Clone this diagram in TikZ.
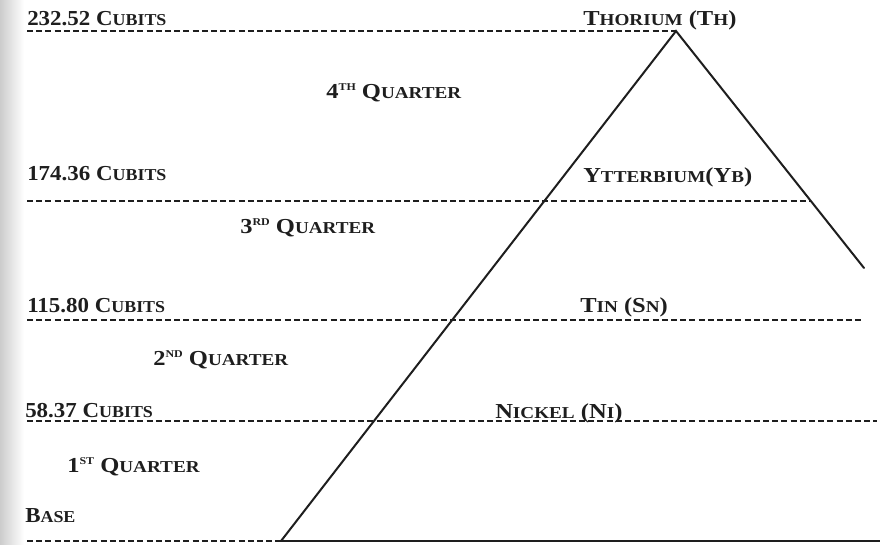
\documentclass[tikz,border=0pt]{standalone}
\usepackage{fontspec}
\setmainfont[FakeStretch=1.15]{Liberation Serif}
\definecolor{ink}{HTML}{1E1E1E}
\newcommand{\Sc}[2]{#1{\fontsize{12.5}{12.5}\selectfont #2}}
\newcommand{\Sup}[1]{\raisebox{5.4pt}{\fontsize{7.8}{7.8}\selectfont #1}}
\newcommand{\Narrow}[1]{\scalebox{0.935}[1]{#1}}
\begin{document}
\begin{tikzpicture}[x=0.75pt,y=-0.75pt,
  lbl/.style={anchor=base west,inner sep=0pt,text=ink,font=\fontsize{16}{16}\selectfont\bfseries},
  lev/.style={draw=ink,line width=1.1pt,dash pattern=on 4.5pt off 2.4pt},
  side/.style={draw=ink,line width=1.5pt,line cap=round,line join=miter},
  baseline solid/.style={draw=ink,line width=1.1pt}]
\useasboundingbox (0,0) rectangle (880,544);
\shade[left color=black!20,right color=white] (0,0) rectangle (24,544);

% coordinates
\coordinate (apex) at (676,31);
\coordinate (bl) at (281,541);
\coordinate (rend) at (864,268);
\coordinate (l4s) at (27,31);
\coordinate (l3s) at (27,201); \coordinate (l3e) at (810,201);
\coordinate (l2s) at (27,320); \coordinate (l2e) at (864,320);
\coordinate (l1s) at (27,421); \coordinate (l1e) at (877,421);
\coordinate (l0s) at (27,541); \coordinate (l0e) at (880,541);

% level lines
\draw[lev] (l4s) -- (apex);
\draw[lev] (l3s) -- (l3e);
\draw[lev] (l2s) -- (l2e);
\draw[lev] (l1s) -- (l1e);
\draw[lev] (l0s) -- (bl);
\draw[baseline solid] (bl) -- (l0e);

% pyramid sides
\draw[side] (bl) -- (apex) -- (rend);

% left labels
\node[lbl] (c4) at (27,25) {\Narrow{232.52 \Sc{C}{UBITS}}};
\node[lbl] (c3) at (27,180) {\Narrow{174.36 \Sc{C}{UBITS}}};
\node[lbl] (c2) at (27,312) {\Narrow{115.80 \Sc{C}{UBITS}}};
\node[lbl] (c1) at (25,417) {\Narrow{58.37 \Sc{C}{UBITS}}};
\node[lbl] (base) at (25,522) {\Narrow{\Sc{B}{ASE}}};

% quarters
\node[lbl] (q4) at (326,98) {4\Sup{TH} \Sc{Q}{UARTER}};
\node[lbl] (q3) at (240,233) {3\Sup{RD} \Sc{Q}{UARTER}};
\node[lbl] (q2) at (153,365) {2\Sup{ND} \Sc{Q}{UARTER}};
\node[lbl] (q1) at (67,472) {1\Sup{ST} \Sc{Q}{UARTER}};

% elements
\node[lbl] (th) at (583,25) {\Sc{T}{HORIUM} (\Sc{T}{H})};
\node[lbl] (yb) at (583,182) {\Sc{Y}{TTERBIUM}(\Sc{Y}{B})};
\node[lbl] (sn) at (580,312) {\Sc{T}{IN} (\Sc{S}{N})};
\node[lbl] (ni) at (495,418) {\Sc{N}{ICKEL} (\Sc{N}{I})};
\end{tikzpicture}
\end{document}
